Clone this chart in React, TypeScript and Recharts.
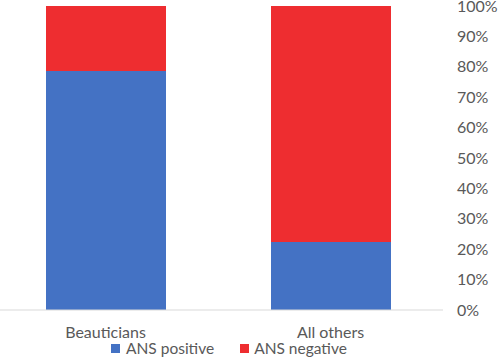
import React from 'react';
import { BarChart, Bar, XAxis, YAxis, Legend } from 'recharts';

const categories = ['Beauticians', 'All others'];
const ansPositive = [78.6, 22.4];
const ansNegative = [21.4, 77.6];
const yTicks = [0, 10, 20, 30, 40, 50, 60, 70, 80, 90, 100];

const data = categories.map((name, i) => ({
  name,
  positive: ansPositive[i],
  negative: ansNegative[i],
}));

const FONT = 'Lato, "Open Sans", sans-serif';

const renderLegend = () => (
  <div style={{ display: 'flex', justifyContent: 'flex-start', fontFamily: FONT, fontSize: 15.5, color: '#595959', height: 20, lineHeight: '20px', paddingLeft: 118 }}>
    <span style={{ display: 'flex', alignItems: 'center', marginRight: 26 }}>
      <span style={{ width: 9, height: 9, background: '#4472C4', marginRight: 6, display: 'inline-block' }} />
      ANS positive
    </span>
    <span style={{ display: 'flex', alignItems: 'center' }}>
      <span style={{ width: 9, height: 9, background: '#EE2D30', marginRight: 5, display: 'inline-block' }} />
      ANS negative
    </span>
  </div>
);

export default function App() {
  return (
    <div style={{ position: 'absolute', left: 0, top: 0, width: 498, height: 358, background: '#fff' }}>
      <BarChart width={498} height={358} data={data} margin={{ top: 6, right: 0, left: -7, bottom: 0 }} barSize={120}>
        <XAxis
          dataKey="name"
          height={28}
          tickLine={false}
          tickMargin={11}
          axisLine={{ stroke: '#d9d9d9', strokeWidth: 1 }}
          tick={{ fill: '#595959', fontSize: 16, fontFamily: FONT }}
        />
        <YAxis
          orientation="right"
          width={55}
          domain={[0, 100]}
          ticks={yTicks}
          interval={0}
          tickFormatter={(v: number) => `${v}%`}
          axisLine={false}
          tickLine={false}
          tickMargin={8}
          tick={{ fill: '#595959', fontSize: 16, fontFamily: FONT, textAnchor: 'start' }}
        />
        <Legend verticalAlign="bottom" content={renderLegend} />
        <Bar dataKey="positive" stackId="a" fill="#4472C4" isAnimationActive={false} />
        <Bar dataKey="negative" stackId="a" fill="#EE2D30" isAnimationActive={false} />
      </BarChart>
    </div>
  );
}
